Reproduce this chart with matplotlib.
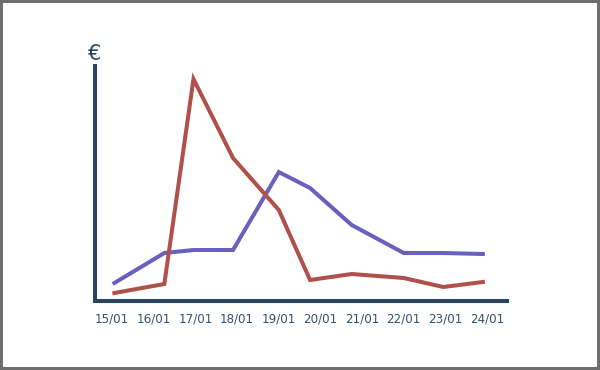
import matplotlib
matplotlib.use("Agg")
import matplotlib.pyplot as plt
from matplotlib.patches import Rectangle

# Data
tick_labels = ["15/01", "16/01", "17/01", "18/01", "19/01",
               "20/01", "21/01", "22/01", "23/01", "24/01"]
x_days = [0.05, 1.25, 1.95, 2.9, 4.0, 4.75, 5.75, 7.0, 7.95, 8.9]
red_values = [8, 17, 222, 143, 91, 21, 27, 23, 14, 19]
blue_values = [18, 48, 51, 51, 129, 113, 76, 48, 48, 47]

navy = "#2a4560"
label_col = "#34506e"
red = "#b0504b"
blue = "#6a5fbf"

fig = plt.figure(figsize=(6, 3.7), dpi=100)
ax = fig.add_axes([0.158, 0.1865, 0.687, 0.635])

ax.plot(x_days, blue_values, color=blue, lw=2.9, solid_joinstyle="miter")
ax.plot(x_days, red_values, color=red, lw=2.9, solid_joinstyle="miter")

ax.set_xlim(-0.42, 9.48)
ax.set_ylim(0, 235)
ax.set_xticks(range(len(tick_labels)))
ax.set_xticklabels(tick_labels, fontsize=8.6, color=label_col)
ax.tick_params(axis="x", length=0, pad=8)
ax.set_yticks([])

for s in ["top", "right"]:
    ax.spines[s].set_visible(False)
for s in ["left", "bottom"]:
    ax.spines[s].set_color(navy)
    ax.spines[s].set_linewidth(2.9)

fig.text(95 / 600, 1 - 54 / 370, "€", fontsize=15, color=navy,
         ha="center", va="center")

fig.add_artist(Rectangle((0, 0), 1, 1, transform=fig.transFigure,
                         fill=False, lw=4.3, edgecolor="#6e6e6e"))

fig.savefig("out.png", dpi=100)
